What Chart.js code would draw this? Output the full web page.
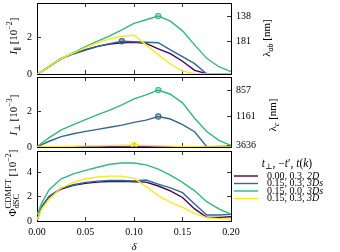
<!DOCTYPE html>
<html>
<head>
<meta charset="utf-8">
<script src="https://cdn.jsdelivr.net/npm/chart.js@4.4.0/dist/chart.umd.min.js"></script>
<style>
  html, body { margin: 0; padding: 0; background: #fff; }
  #wrap { position: relative; width: 340px; height: 252px; }
  #wrap canvas { position: absolute; left: 0; top: 0; }
</style>
</head>
<body>
<div id="wrap">
  <canvas id="p1" width="340" height="252"></canvas>
  <canvas id="p2" width="340" height="252"></canvas>
  <canvas id="p3" width="340" height="252"></canvas>
</div>
<script>
// doping values shared by every curve
const delta = [0, 0.005, 0.0125, 0.025, 0.0375, 0.05, 0.0625, 0.075, 0.0875, 0.1, 0.1125, 0.125, 0.1375, 0.15, 0.1625, 0.175, 0.1875, 0.2];

// legend: t_perp, -t', t(k)
const seriesParams = ['0.00, 0.3, ', '0.15, 0.3, ', '0.15, 0.0, ', '0.15, 0.3, '];
const seriesModel = ['2D', '3Ds', '3Ds', '3D'];

// top panel: I_par [1e-2]
const iParPurple = [0, 0.15, 0.42, 0.86, 1.12, 1.33, 1.52, 1.65, 1.72, 1.74, 1.68, 1.38, 1.12, 0.7, 0.2, 0.02, 0, 0];
const iParBlue   = [0, 0.14, 0.4, 0.83, 1.1, 1.32, 1.52, 1.67, 1.8, 1.77, 1.74, 1.72, 1.32, 0.95, 0.57, 0, 0, 0];
const iParGreen  = [0, 0.15, 0.42, 0.85, 1.18, 1.5, 1.8, 2.1, 2.42, 2.78, 2.98, 3.18, 2.9, 2.37, 1.6, 0.86, 0.4, 0.13];
const iParYellow = [0, 0.15, 0.42, 0.85, 1.15, 1.45, 1.72, 1.93, 2.07, 2.13, 1.6, 1.05, 0.55, 0.16, 0.02, 0, 0, 0];

// middle panel: I_perp [1e-3]
const iPerpPurple = [0, 0, 0, 0, 0, 0, 0, 0, 0, 0, 0, 0, 0, 0, 0, 0, 0, 0];
const iPerpBlue   = [0, 0.13, 0.32, 0.58, 0.74, 0.87, 0.98, 1.1, 1.22, 1.37, 1.5, 1.7, 1.56, 1.25, 0.85, 0.02, 0.03, 0.05];
const iPerpGreen  = [0, 0.22, 0.52, 0.95, 1.25, 1.52, 1.8, 2.05, 2.35, 2.68, 2.9, 3.17, 2.94, 2.46, 1.6, 0.86, 0.37, 0.09];
const iPerpYellow = [0, 0.01, 0.02, 0.03, 0.04, 0.06, 0.07, 0.09, 0.1, 0.11, 0.09, 0.07, 0.05, 0.03, 0.01, 0, 0, 0];

// bottom panel: Phi dSC [1e-2]
const phiPurple = [0.05, 1.2, 2.0, 2.65, 2.95, 3.12, 3.22, 3.27, 3.28, 3.25, 3.22, 2.9, 2.5, 1.95, 1.0, 0.3, 0.3, 0.35];
const phiBlue   = [0.05, 1.2, 2.05, 2.72, 3.0, 3.2, 3.3, 3.35, 3.36, 3.32, 3.4, 3.05, 2.75, 2.35, 1.4, 0.5, 0.5, 0.55];
const phiGreen  = [0.5, 1.5, 2.6, 3.5, 3.9, 4.2, 4.45, 4.7, 4.8, 4.8, 4.65, 4.3, 3.8, 3.2, 2.5, 1.6, 1.0, 0.55];
const phiYellow = [0.1, 1.0, 1.8, 2.75, 3.2, 3.5, 3.65, 3.72, 3.72, 3.55, 2.85, 2.1, 1.56, 1.12, 0.63, 0.27, 0.2, 0.15];

// marked points (delta of the circle per series, null = none) and penetration depth labels
const markParallel = [null, 0.0875, 0.125, null];
const lambdaAbLabels = ['181', '138'];
const markPerp = [null, 0.125, 0.125, 0.1];
const lambdaCLabels = ['1161', '857', '3636'];

const colors = ['#440154', '#31688e', '#35b779', '#fde725'];
const SERIF = '"Liberation Serif", "DejaVu Serif", serif';
const W = 340, H = 252, LEFT = 37, RIGHT = 231;

function markValues(series, marks) {
  const out = [];
  marks.forEach((m, k) => {
    if (m !== null) out.push(series[k][delta.indexOf(m)]);
  });
  return out;
}

// simple rich text: parts {t, s, i, dy} or {sup, sub, s}
function drawRich(ctx, parts, cx, cy, rotate, base) {
  base = base || 11;
  ctx.save();
  ctx.translate(cx, cy);
  if (rotate) ctx.rotate(-Math.PI / 2);
  ctx.fillStyle = '#000';
  ctx.textBaseline = 'alphabetic';
  const font = p => (p.i ? 'italic ' : '') + (p.s || base) + 'px ' + SERIF;
  const widths = parts.map(p => {
    ctx.font = font(p);
    if (p.sup !== undefined) {
      return Math.max(ctx.measureText(p.sup).width, ctx.measureText(p.sub).width);
    }
    return ctx.measureText(p.t).width;
  });
  const total = widths.reduce((a, b) => a + b, 0);
  let x = -total / 2;
  const y0 = base * 0.35;
  parts.forEach((p, k) => {
    ctx.font = font(p);
    if (p.sup !== undefined) {
      ctx.fillText(p.sup, x, y0 - base * 0.42);
      ctx.fillText(p.sub, x, y0 + base * 0.3);
    } else {
      ctx.fillText(p.t, x, y0 + (p.dy || 0));
    }
    x += widths[k];
  });
  ctx.restore();
}

function fixWidth(w) {
  return s => { s.width = w; s.paddingTop = s.paddingBottom = s.paddingLeft = s.paddingRight = 0; };
}
function fixHeight(h) {
  return s => { s.height = h; s.paddingTop = s.paddingBottom = s.paddingLeft = s.paddingRight = 0; };
}
function evenTicks(s) {
  s.ticks = s.ticks.filter(t => Math.abs(t.value / 2 - Math.round(t.value / 2)) < 1e-6);
}

function makePanel(id, cfg) {
  const datasets = cfg.series.map((vals, k) => ({
    data: vals.map((v, i) => ({ x: delta[i], y: v })),
    borderColor: colors[k],
    borderWidth: 1.4,
    order: 3 - k,
    tension: 0,
    pointRadius: c => (cfg.marks[k] !== null && delta[c.dataIndex] === cfg.marks[k]) ? 2.6 : 0,
    pointBorderColor: colors[k],
    pointBackgroundColor: colors[k] + '50',
    pointBorderWidth: 1.1
  }));
  const tickFont = { family: SERIF, size: 10 };
  const grid = { drawOnChartArea: false, tickLength: -4, color: '#000', lineWidth: 0.8 };
  const border = { display: true, color: '#000', width: 1 };

  return new Chart(document.getElementById(id), {
    type: 'line',
    data: { datasets },
    options: {
      responsive: false,
      devicePixelRatio: 1,
      animation: false,
      events: [],
      layout: { padding: 0 },
      plugins: { legend: { display: false }, tooltip: { enabled: false } },
      scales: {
        x: {
          type: 'linear', position: 'bottom', min: 0, max: 0.2,
          afterFit: fixHeight(H - cfg.bottom),
          ticks: { display: cfg.showX, stepSize: 0.05, color: '#000', font: tickFont, padding: 9,
                   callback: v => v.toFixed(2), maxRotation: 0 },
          grid, border
        },
        xTop: {
          type: 'linear', position: 'top', min: 0, max: 0.2,
          afterFit: fixHeight(cfg.top),
          ticks: { display: false, stepSize: 0.05 },
          grid, border
        },
        y: {
          type: 'linear', position: 'left', min: 0, max: cfg.yMax,
          afterFit: fixWidth(LEFT),
          afterBuildTicks: evenTicks,
          ticks: { stepSize: 2, color: '#000', font: tickFont, padding: 9 },
          grid, border
        },
        yRight: {
          type: 'linear', position: 'right', min: 0, max: cfg.yMax,
          afterFit: fixWidth(W - RIGHT),
          afterBuildTicks: s => {
            if (cfg.rightVals) s.ticks = cfg.rightVals.map(v => ({ value: v }));
            else evenTicks(s);
          },
          ticks: { display: !!cfg.rightVals, stepSize: 2, color: '#000', font: tickFont, padding: 9,
                   callback: (v, i) => cfg.rightLabels ? cfg.rightLabels[i] : '' },
          grid, border
        }
      }
    },
    plugins: [{
      id: 'labels' + id,
      afterDraw: chart => cfg.draw(chart.ctx)
    }]
  });
}

const parSeries = [iParPurple, iParBlue, iParGreen, iParYellow];
const perpSeries = [iPerpPurple, iPerpBlue, iPerpGreen, iPerpYellow];
const phiSeries = [phiPurple, phiBlue, phiGreen, phiYellow];

makePanel('p1', {
  series: parSeries, yMax: 3.9, top: 3, bottom: 74, showX: false,
  marks: markParallel, rightVals: markValues(parSeries, markParallel), rightLabels: lambdaAbLabels,
  draw: ctx => {
    drawRich(ctx, [{ t: 'I', i: 1 }, { t: '∥', s: 8, dy: 3 }, { t: ' [10' }, { t: '−2', s: 8, dy: -5 }, { t: ']' }], 13, 36, true);
    drawRich(ctx, [{ t: 'λ' }, { t: 'ab', s: 8, dy: 3, i: 1 }, { t: ' [nm]' }], 266, 38, true);
  }
});

makePanel('p2', {
  series: perpSeries, yMax: 3.9, top: 77, bottom: 147, showX: false,
  marks: markPerp, rightVals: markValues(perpSeries, markPerp), rightLabels: lambdaCLabels,
  draw: ctx => {
    drawRich(ctx, [{ t: 'I', i: 1 }, { t: '⊥', s: 8, dy: 3 }, { t: ' [10' }, { t: '−3', s: 8, dy: -5 }, { t: ']' }], 13, 115, true);
    drawRich(ctx, [{ t: 'λ' }, { t: 'c', s: 8, dy: 3, i: 1 }, { t: ' [nm]' }], 272, 115, true);
  }
});

makePanel('p3', {
  series: phiSeries, yMax: 5.8, top: 151, bottom: 221, showX: true,
  marks: [null, null, null, null],
  draw: ctx => {
    drawRich(ctx, [{ t: 'Φ' }, { sup: 'CDMFT', sub: 'dSC', s: 8.5 }, { t: ' [10' }, { t: '−2', s: 8, dy: -5 }, { t: ']' }], 12, 183, true);
    drawRich(ctx, [{ t: 'δ', i: 1 }], 134, 246, false);
    // legend
    drawRich(ctx, [{ t: 't', i: 1 }, { t: '⊥', s: 8, dy: 2 }, { t: ', −' }, { t: 't', i: 1 }, { t: '′, ' },
                   { t: 't', i: 1 }, { t: '(' }, { t: 'k', i: 1 }, { t: ')' }], 287, 163, false, 11.5);
    ctx.save();
    seriesParams.forEach((p, k) => {
      const y = 176 + k * 7.5;
      ctx.strokeStyle = colors[k];
      ctx.lineWidth = 1.4;
      ctx.beginPath();
      ctx.moveTo(234, y);
      ctx.lineTo(258, y);
      ctx.stroke();
      ctx.fillStyle = '#000';
      ctx.textBaseline = 'middle';
      ctx.font = '10px ' + SERIF;
      ctx.fillText(p, 267, y);
      const w = ctx.measureText(p).width;
      ctx.font = 'italic 10px ' + SERIF;
      ctx.fillText(seriesModel[k], 267 + w, y);
    });
    ctx.restore();
  }
});
</script>
</body>
</html>
